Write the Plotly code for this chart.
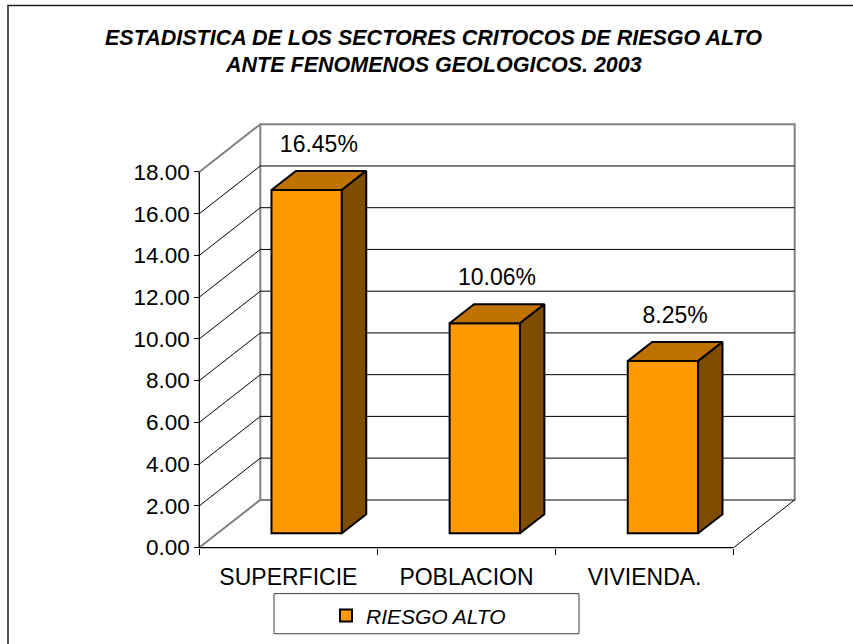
import plotly.graph_objects as go

# ---------------- data ----------------
categories = ["SUPERFICIE", "POBLACION", "VIVIENDA."]
values = [16.45, 10.06, 8.25]
value_labels = ["16.45%", "10.06%", "8.25%"]
series_name = "RIESGO ALTO"
y_ticks = [0, 2, 4, 6, 8, 10, 12, 14, 16, 18]
y_tick_labels = ["%.2f" % t for t in y_ticks]
title_lines = ["ESTADISTICA DE LOS SECTORES CRITOCOS DE RIESGO ALTO",
               "ANTE FENOMENOS GEOLOGICOS. 2003"]

# ---------------- layout geometry (pixels) ----------------
W, H = 853, 644
FRONT_LEFT_PX = 199.3     # front plane left edge
CAT_PX = 178.13           # width of one category on front plane
ZERO_PX = 551.0           # y pixel of value 0 on front plane
UNIT_PX = 21.0            # pixels per value unit
DEPTH_DX_PX = 61.0        # 3-D depth offset
DEPTH_DY_PX = 48.0
PA_LEFT, PA_RIGHT, PA_TOP, PA_BOTTOM = 190, 805, 118, 560

DX = DEPTH_DX_PX / CAT_PX         # depth offset in category units
DY = DEPTH_DY_PX / UNIT_PX        # depth offset in value units
D0, DD = 0.3, 0.4                 # bar depth start / thickness (fraction)
BAR_W = 0.395
YMAX = y_ticks[-1]
n = len(categories)
xl, xr = -0.5, n - 0.5

def px_to_cat(px):
    return (px - FRONT_LEFT_PX) / CAT_PX - 0.5

def py_to_val(py):
    return (ZERO_PX - py) / UNIT_PX

ORANGE = "#FF9900"
TOP_C = "#C07200"
SIDE_C = "#7F4C00"
GRAY = "#808080"
FONT = "Liberation Sans, Arial, sans-serif"

fig = go.Figure()

# front faces of the bars (library bars, shifted into depth)
fig.add_trace(go.Bar(
    x=[i + D0 * DX for i in range(n)],
    y=values,
    base=[D0 * DY] * n,
    width=BAR_W,
    marker=dict(color=ORANGE, line=dict(color="black", width=2)),
    name=series_name,
    showlegend=True,
    hoverinfo="skip",
))

# top and side faces
for i, v in enumerate(values):
    x0 = i - BAR_W / 2 + D0 * DX
    x1 = i + BAR_W / 2 + D0 * DX
    yb = D0 * DY
    yt = v + D0 * DY
    ddx, ddy = DD * DX, DD * DY
    fig.add_trace(go.Scatter(
        x=[x0, x1, x1 + ddx, x0 + ddx, x0],
        y=[yt, yt, yt + ddy, yt + ddy, yt],
        fill="toself", fillcolor=TOP_C, mode="lines",
        line=dict(color="black", width=2), showlegend=False, hoverinfo="skip"))
    fig.add_trace(go.Scatter(
        x=[x1, x1 + ddx, x1 + ddx, x1, x1],
        y=[yb, yb + ddy, yt + ddy, yt, yb],
        fill="toself", fillcolor=SIDE_C, mode="lines",
        line=dict(color="black", width=2), showlegend=False, hoverinfo="skip"))

# value labels
fig.add_trace(go.Scatter(
    x=[i + (D0 + DD / 2) * DX for i in range(n)],
    y=[v + (D0 + DD / 2) * DY + 34.5 / UNIT_PX for v in values],
    mode="text", text=value_labels, textposition="middle center",
    textfont=dict(family=FONT, size=23, color="black"),
    showlegend=False, hoverinfo="skip", cliponaxis=False))

shapes = []
# back wall
shapes.append(dict(type="rect", xref="x", yref="y", layer="below",
                   x0=xl + DX, x1=xr + DX, y0=DY, y1=YMAX + DY,
                   line=dict(color=GRAY, width=2), fillcolor="white"))
# gridlines on back wall and side wall
for t in y_ticks[1:-1]:
    shapes.append(dict(type="line", xref="x", yref="y", layer="below",
                       x0=xl + DX, x1=xr + DX, y0=t + DY, y1=t + DY,
                       line=dict(color="black", width=1)))
    shapes.append(dict(type="line", xref="x", yref="y", layer="below",
                       x0=xl, x1=xl + DX, y0=t, y1=t + DY,
                       line=dict(color="black", width=1)))
# side wall top / floor left edge (gray)
for t in (0, YMAX):
    shapes.append(dict(type="line", xref="x", yref="y", layer="below",
                       x0=xl, x1=xl + DX, y0=t, y1=t + DY,
                       line=dict(color=GRAY, width=2)))
# floor right diagonal
shapes.append(dict(type="line", xref="x", yref="y", layer="below",
                   x0=xr, x1=xr + DX, y0=0, y1=DY,
                   line=dict(color="black", width=1)))
# front floor edge
shapes.append(dict(type="line", xref="x", yref="y", layer="below",
                   x0=xl, x1=xr, y0=0, y1=0,
                   line=dict(color="black", width=1.3)))
# front value axis line
shapes.append(dict(type="line", xref="x", yref="y", layer="below",
                   x0=xl, x1=xl, y0=0, y1=YMAX,
                   line=dict(color="black", width=1.3)))
# outer chart border
shapes.append(dict(type="rect", xref="paper", yref="paper", layer="below",
                   x0=8 / W, x1=1.05, y0=-0.05, y1=1 - 5.5 / H,
                   line=dict(color="#202020", width=1.5)))
# legend box
shapes.append(dict(type="rect", xref="paper", yref="paper", layer="below",
                   x0=274 / W, x1=579 / W, y0=1 - 637.7 / H, y1=1 - 597.3 / H,
                   line=dict(color="#404040", width=1), fillcolor="white"))

# title lines as annotations (centre of capitals)
title_y_px = [38.5, 65.7]
annotations = [dict(text="<b><i>%s</i></b>" % line, xref="paper", yref="paper",
                    x=433 / W, y=1 - yp / H, xanchor="center", yanchor="middle",
                    showarrow=False,
                    font=dict(family=FONT, size=21.5, color="black"))
               for line, yp in zip(title_lines, title_y_px)]

fig.update_layout(
    width=W, height=H,
    margin=dict(l=0, r=0, t=0, b=0),
    paper_bgcolor="white", plot_bgcolor="rgba(0,0,0,0)",
    shapes=shapes,
    annotations=annotations,
    xaxis=dict(domain=[PA_LEFT / W, PA_RIGHT / W],
               range=[px_to_cat(PA_LEFT), px_to_cat(PA_RIGHT)],
               anchor="free", position=(H - ZERO_PX) / H,
               tickvals=list(range(n)), ticktext=categories, ticks="",
               minor=dict(tickvals=[xl + k for k in range(n + 1)],
                          ticks="outside", ticklen=6, tickcolor="black",
                          showgrid=False),
               tickfont=dict(family=FONT, size=23, color="black"),
               showgrid=False, zeroline=False, showline=False,
               ticklabelstandoff=13, fixedrange=True),
    yaxis=dict(domain=[(H - PA_BOTTOM) / H, (H - PA_TOP) / H],
               range=[py_to_val(PA_BOTTOM), py_to_val(PA_TOP)],
               anchor="free", position=FRONT_LEFT_PX / W,
               tickvals=y_ticks, ticktext=y_tick_labels,
               ticks="outside", ticklen=5, tickcolor="black",
               tickfont=dict(family=FONT, size=22.5, color="black"),
               showgrid=False, zeroline=False, showline=False, fixedrange=True),
    legend=dict(orientation="h", x=326 / W, xanchor="left",
                y=1 - 599 / H, yanchor="top",
                bgcolor="rgba(0,0,0,0)", borderwidth=0,
                font=dict(family=FONT, size=21, color="black", style="italic")),
    showlegend=True,
)

fig.write_html("out.html", config={"displayModeBar": False},
               post_script="document.body.style.margin='0px';")
